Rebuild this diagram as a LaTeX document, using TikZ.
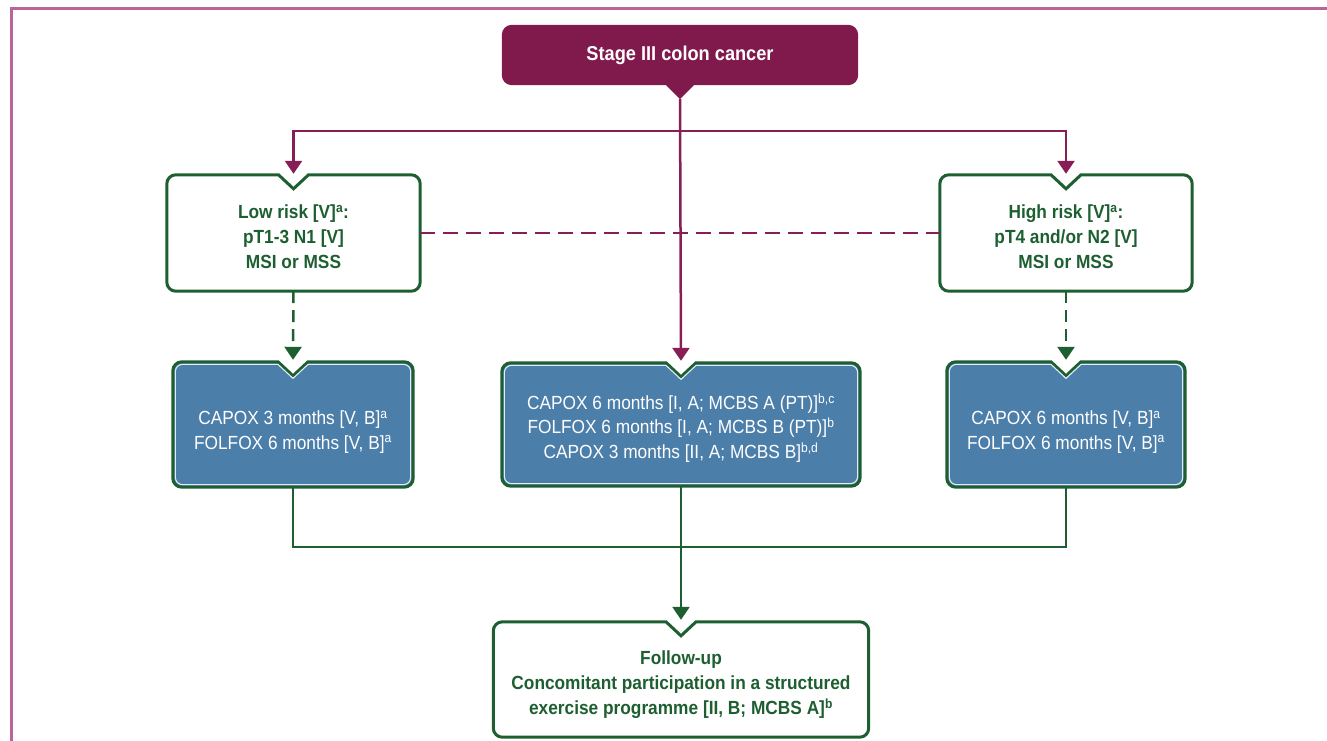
\documentclass[tikz,border=0pt]{standalone}
\usepackage{fontspec}
\setmainfont{Liberation Sans}[FakeStretch=0.91]
\usetikzlibrary{calc,arrows.meta}
\definecolor{maroon}{RGB}{128,26,76}
\definecolor{mcol}{RGB}{135,30,85}
\definecolor{grn}{RGB}{30,95,50}
\definecolor{blu}{RGB}{76,126,170}
\definecolor{framec}{RGB}{185,100,155}
% notched box: #1 node, #2 inset, #3 corner radius, #4 style
\newcommand\nbox[4]{\path[#4] ($(#1.north)+(0,14+#2)$) -- ($(#1.north)+(15,#2)$)
  -- ($(#1.north east)+(-#2-#3,#2)$) arc[start angle=-90, end angle=0, radius=#3]
  -- ($(#1.south east)+(-#2,-#2-#3)$) arc[start angle=0, end angle=90, radius=#3]
  -- ($(#1.south west)+(#2+#3,-#2)$) arc[start angle=90, end angle=180, radius=#3]
  -- ($(#1.north west)+(#2,#2+#3)$) arc[start angle=180, end angle=270, radius=#3]
  -- ($(#1.north)+(-15,#2)$) -- cycle;}
\tikzset{
  base/.style={inner sep=0pt, align=center, font=\fontsize{19}{24.5}\selectfont},
  gbox/.style={base, text=grn, font=\fontsize{19}{25}\selectfont\bfseries},
  bbox/.style={base, text=white},
  mline/.style={draw=mcol, line width=2.5pt},
  gline/.style={draw=grn, line width=2.5pt},
  tip/.style={-{Triangle[width=17pt,length=13pt]}},
}
\begin{document}
\begin{tikzpicture}[x=1pt,y=-1pt]
\useasboundingbox (0,0) rectangle (1327,741);
\draw[framec, line width=3pt] (11,741) -- (11,9) -- (1327,9);
% nodes
\node[base, minimum width=356pt, minimum height=60pt] (stage) at (680,55) {};
\node[gbox, minimum width=253pt, minimum height=116pt] (low) at (293.5,233) {};
\node[gbox, minimum width=252pt, minimum height=116pt] (high) at (1066,233) {};
\node[bbox, minimum width=240pt, minimum height=125pt] (lowc) at (293,424.5) {};
\node[bbox, minimum width=358pt, minimum height=123pt] (midc) at (681,424.5) {};
\node[bbox, minimum width=238pt, minimum height=125pt] (highc) at (1066,424.5) {};
\node[gbox, minimum width=375pt, minimum height=115pt] (follow) at (681,679.5) {};
% shapes
\path[fill=maroon] ($(stage.north west)+(10,0)$) -- ($(stage.north east)+(-10,0)$) arc[start angle=-90, end angle=0, radius=10]
  -- ($(stage.south east)+(0,-10)$) arc[start angle=0, end angle=90, radius=10]
  -- ($(stage.south)+(14,0)$) -- ($(stage.south)+(0,14)$) -- ($(stage.south)+(-14,0)$)
  -- ($(stage.south west)+(10,0)$) arc[start angle=90, end angle=180, radius=10]
  -- ($(stage.north west)+(0,10)$) arc[start angle=180, end angle=270, radius=10] -- cycle;
\coordinate (stagetip) at ($(stage.south)+(0,14)$);
\nbox{low}{0}{9}{draw=grn, line width=3pt, fill=white}
\nbox{high}{0}{9}{draw=grn, line width=3pt, fill=white}
\nbox{follow}{0}{9}{draw=grn, line width=3pt, fill=white}
\foreach \b in {lowc,midc,highc}{
  \nbox{\b}{0}{9}{draw=grn, line width=3pt, fill=blu}
  \nbox{\b}{2.6}{7}{draw=white!85!blu, line width=1.1pt}
}
% texts
\node[base, text=white, font=\fontsize{20}{24}\selectfont\bfseries] (stagetxt) at (680,55) {Stage III colon cancer};
\node[gbox] (lowtxt) at (293.5,237) {Low risk [V]\textsuperscript{a}:\\pT1-3 N1 [V]\\MSI or MSS};
\node[gbox] (hightxt) at (1066,237) {High risk [V]\textsuperscript{a}:\\pT4 and/or N2 [V]\\MSI or MSS};
\node[bbox] (lowctxt) at (293,432) {CAPOX 3 months [V, B]\textsuperscript{a}\\FOLFOX 6 months [V, B]\textsuperscript{a}};
\node[bbox] (midctxt) at (681,428) {CAPOX 6 months [I, A; MCBS A (PT)]\textsuperscript{b,c}\\FOLFOX 6 months [I, A; MCBS B (PT)]\textsuperscript{b}\\CAPOX 3 months [II, A; MCBS B]\textsuperscript{b,d}};
\node[bbox] (highctxt) at (1066,432) {CAPOX 6 months [V, B]\textsuperscript{a}\\FOLFOX 6 months [V, B]\textsuperscript{a}};
\node[gbox] (followtxt) at (681,685) {Follow-up\\Concomitant participation in a structured\\exercise programme [II, B; MCBS A]\textsuperscript{b}};
% connectors
\coordinate (split) at ($(stagetip)+(0,32)$);
\draw[mline, tip] (stagetip) -- ($(midc.north)+(0,-2)$);
\draw[mline, tip] (split) -| ($(low.north)+(0,-1)$);
\draw[mline, tip] (split) -| ($(high.north)+(0,-1)$);
\draw[mline, dash pattern=on 15pt off 8pt] (low.east) -- (high.west);
\draw[gline, dash pattern=on 12pt off 7pt, tip] (low.south) -- ($(lowc.north)+(0,-2)$);
\draw[gline, dash pattern=on 12pt off 7pt, tip] (high.south) -- ($(highc.north)+(0,-2)$);
\coordinate (join) at ($(midc.south)+(0,61)$);
\draw[gline] (lowc.south) |- (join) -| (highc.south);
\draw[gline, tip] (midc.south) -- ($(follow.north)+(0,-2)$);
\end{tikzpicture}
\end{document}
